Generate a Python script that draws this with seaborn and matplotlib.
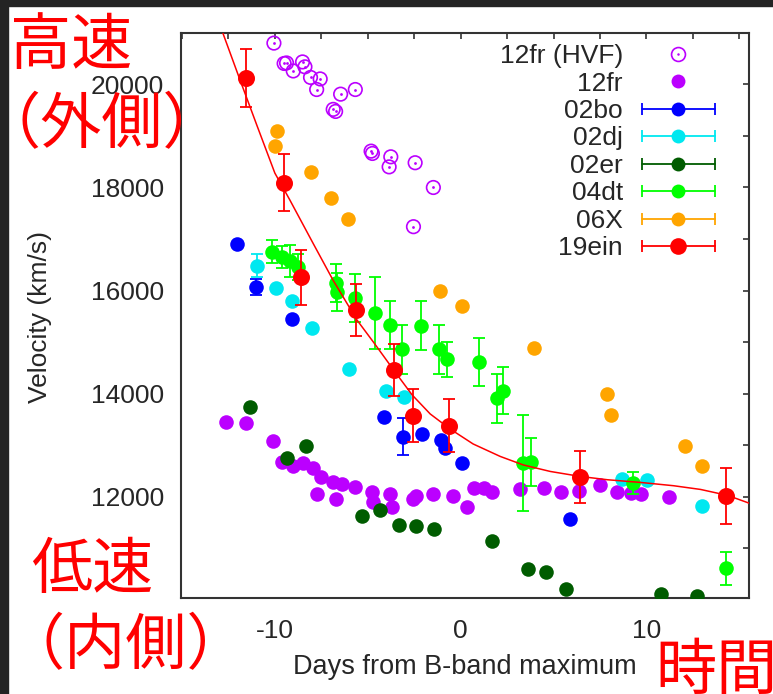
import matplotlib
matplotlib.use("Agg")
import matplotlib.pyplot as plt
from matplotlib.lines import Line2D
from matplotlib.patches import Rectangle
from matplotlib.legend_handler import HandlerLine2D
from matplotlib.ticker import MultipleLocator
import pandas as pd
import seaborn as sns

sns.set_style("white")
plt.rcParams["font.family"] = ["Liberation Sans", "DejaVu Sans"]
plt.rcParams["axes.unicode_minus"] = False

# ---------------- data: days from B-band maximum / velocity (km/s) ----------------
hvf12fr_day = [-10.05, -9.50, -9.37, -9.01, -8.51, -8.38, -8.08, -7.56, -7.75, -6.86,
               -6.73, -6.46, -5.67, -4.82, -4.75, -3.76, -3.85, -2.45, -1.47, -2.54]
hvf12fr_vel = [20800, 20405, 20415, 20260, 20435, 20340, 20135, 20105, 19900, 19515,
               19475, 19810, 19900, 18705, 18660, 18595, 18400, 18480, 18000, 17240]

sn12fr_day = [-12.64, -11.53, -10.09, -9.64, -9.01, -8.51, -7.94, -7.52, -6.86, -6.40,
              -7.75, -6.73, -5.69, -4.79, -4.70, -3.80, -3.71, -2.54, -2.42, -1.50,
              -0.39, 0.33, 0.73, 1.27, 1.71, 3.17, 4.46, 5.40, 6.39, 7.52,
              8.42, 9.18, 9.68, 11.20]
sn12fr_vel = [13450, 13430, 13090, 12670, 12590, 12650, 12555, 12395, 12295, 12245,
              12060, 11960, 12200, 12105, 11910, 12050, 11810, 11955, 12020, 12050,
              12025, 11810, 12180, 12180, 12090, 12155, 12180, 12105, 12115, 12230,
              12105, 12085, 12060, 12005]

sn02bo_day = [-12.03, -11.02, -9.10, -4.14, -3.12, -2.09, -1.05, -0.82, 0.08, 5.90]
sn02bo_vel = [16900, 16075, 15450, 13555, 13170, 13220, 13105, 12940, 12665, 11570]
sn02bo_err = [0, 150, 0, 0, 365, 0, 0, 0, 0, 0]

sn02dj_day = [-10.95, -9.95, -9.05, -8.02, -6.01, -4.03, -3.03, 8.70, 10.02, 13.00]
sn02dj_vel = [16485, 16045, 15800, 15270, 14475, 14060, 13945, 12355, 12320, 11826]
sn02dj_err = [230, 0, 0, 0, 0, 0, 0, 0, 0, 0]

sn02er_day = [-11.35, -9.37, -8.35, -5.33, -4.34, -3.33, -2.42, -1.43, 1.68, 3.60,
              4.61, 5.69, 10.79, 12.70]
sn02er_vel = [13750, 12762, 12994, 11638, 11748, 11457, 11438, 11386, 11147, 10605,
              10552, 10217, 10120, 10081]

sn04dt_day = [-10.15, -9.64, -9.19, -8.74, -6.73, -6.64, -5.69, -4.61, -3.80, -3.14,
              -2.15, -1.14, -0.71, 1.00, 1.98, 2.27, 3.35, 3.78, 9.27, 14.30]
sn04dt_vel = [16755, 16655, 16575, 16465, 16150, 15980, 15855, 15560, 15333, 14860,
              15320, 14860, 14665, 14616, 13913, 14060, 12653, 12685, 12270, 10618]
sn04dt_err = [225, 215, 310, 250, 370, 370, 470, 700, 470, 470,
              470, 470, 345, 460, 470, 460, 930, 465, 220, 323]

sn06X_day = [-9.91, -10.00, -8.06, -6.98, -6.05, -1.10, 0.08, 3.96, 7.88, 8.08, 12.05, 12.98]
sn06X_vel = [19100, 18800, 18295, 17800, 17390, 15998, 15700, 14895, 13995, 13590, 12995, 12600]

sn19ein_day = [-11.56, -9.51, -8.58, -5.64, -3.58, -2.58, -0.65, 6.41, 14.27]
sn19ein_vel = [20125, 18090, 16255, 15630, 14460, 13576, 13382, 12380, 12019]
sn19ein_err = [570, 552, 536, 500, 510, 508, 508, 507, 545]

# smooth velocity-evolution curve for 19ein
fit_day = [-12.79, -11.89, -10.97, -10.00, -9.19, -7.95, -6.87, -5.58, -4.66, -3.53,
           -2.61, -1.64, -0.57, 0.67, 2.13, 3.37, 4.82, 6.44, 7.90, 9.68,
           11.46, 12.91, 14.37, 15.53]
fit_vel = [20987, 20101, 19209, 18280, 17756, 16923, 16205, 15430, 14985, 14423,
           13977, 13609, 13318, 13027, 12785, 12620, 12494, 12397, 12333, 12281,
           12217, 12145, 12029, 11878]

legend_labels = ["12fr (HVF)", "12fr", "02bo", "02dj", "02er", "04dt", "06X", "19ein"]

PURPLE = "#bb00ff"
BLUE = "#0000ff"
CYAN = "#00e8f0"
DKGREEN = "#005c00"
GREEN = "#00ff00"
ORANGE = "#ffa500"
RED = "#ff0000"
SPINE = "#333333"

# ---------------- figure / axes ----------------
W, H = 773, 694
fig = plt.figure(figsize=(W / 100, H / 100), dpi=100)
fig.patch.set_facecolor("white")
x0, x1, y0, y1 = 181, 748.7, 33.3, 598
ax = fig.add_axes([x0 / W, 1 - y1 / H, (x1 - x0) / W, (y1 - y0) / H])


def points(day, vel, color, size, z, **kw):
    df = pd.DataFrame({"day": day, "vel": vel})
    sns.scatterplot(data=df, x="day", y="vel", color=color, s=size, zorder=z,
                    ax=ax, legend=False, **kw)


def bars(day, vel, err, color, z):
    ax.errorbar(day, vel, yerr=err, fmt="none", ecolor=color, elinewidth=1.3,
                capsize=4.3, capthick=1.3, zorder=z)


# 12fr HVF: open ring with a centre dot
df_hvf = pd.DataFrame({"day": hvf12fr_day, "vel": hvf12fr_vel})
sns.scatterplot(data=df_hvf, x="day", y="vel", marker="o", facecolors="none",
                edgecolor=PURPLE, linewidth=1.2, s=95, zorder=2, ax=ax, legend=False)
sns.scatterplot(data=df_hvf, x="day", y="vel", color=PURPLE, s=4, linewidth=0,
                zorder=2, ax=ax, legend=False)

points(sn12fr_day, sn12fr_vel, PURPLE, 110, 3, linewidth=0)
bars(sn02bo_day, sn02bo_vel, sn02bo_err, BLUE, 4)
points(sn02bo_day, sn02bo_vel, BLUE, 110, 4, linewidth=0)
bars(sn02dj_day, sn02dj_vel, sn02dj_err, CYAN, 5)
points(sn02dj_day, sn02dj_vel, CYAN, 110, 5, linewidth=0)
points(sn02er_day, sn02er_vel, DKGREEN, 110, 6, linewidth=0)
bars(sn04dt_day, sn04dt_vel, sn04dt_err, GREEN, 7)
points(sn04dt_day, sn04dt_vel, GREEN, 110, 7, linewidth=0)
points(sn06X_day, sn06X_vel, ORANGE, 110, 8, linewidth=0)
bars(sn19ein_day, sn19ein_vel, sn19ein_err, RED, 9)
points(sn19ein_day, sn19ein_vel, RED, 150, 9, linewidth=0)
sns.lineplot(x=fit_day, y=fit_vel, color=RED, linewidth=1.1, zorder=10, ax=ax)

# ---------------- axes styling ----------------
ax.set_xlim(-15.05, 15.5)
ax.set_ylim(10040, 20990)
ax.set_xticks([-10, 0, 10])
ax.xaxis.set_minor_locator(MultipleLocator(2.5))
ax.set_yticks([12000, 14000, 16000, 18000, 20000])
ax.yaxis.set_minor_locator(MultipleLocator(1000))
ax.tick_params(which="both", direction="in", top=True, right=True, length=4.5,
               width=1.2, color=SPINE)
ax.tick_params(axis="x", which="major", pad=15, labelsize=19)
ax.tick_params(axis="y", which="major", pad=12, labelsize=19)
for s in ax.spines.values():
    s.set_linewidth(1.5)
    s.set_color(SPINE)
ax.set_xlabel("Days from B-band maximum", fontsize=19.5)
ax.xaxis.set_label_coords(0.5003, -0.100)
ax.set_ylabel("Velocity (km/s)", fontsize=19)
ax.yaxis.set_label_coords(-0.2272, 0.4976)

# ---------------- legend ----------------
cap_handler = HandlerLine2D(numpoints=2, marker_pad=0)
ring = Line2D([], [], ls="none", marker="o", ms=10, mfc="none", mec=PURPLE, mew=1.2)
ring_dot = Line2D([], [], ls="none", marker="o", ms=1.8, mfc=PURPLE, mec=PURPLE, mew=0)
handles = [(ring, ring_dot),
           Line2D([], [], ls="none", marker="o", ms=10, mfc=PURPLE, mew=0)]
hmap = {}
for color, ms in [(BLUE, 10), (CYAN, 10), (DKGREEN, 10), (GREEN, 10), (ORANGE, 10), (RED, 12)]:
    bar = Line2D([], [], color=color, lw=1.3, marker="|", ms=8, mew=1.3)
    dot = Line2D([], [], ls="none", marker="o", ms=ms, mfc=color, mew=0)
    hmap[bar] = cap_handler
    handles.append((bar, dot))
ax.legend(handles, legend_labels, handler_map=hmap, loc="upper right",
          bbox_to_anchor=(0.9407, 0.9807), markerfirst=False, frameon=False,
          fontsize=19, handlelength=2.77, handletextpad=0.72, labelspacing=0.13,
          borderpad=0, borderaxespad=0)

# ---------------- annotations ----------------
cjk = ["Noto Sans CJK JP", "DejaVu Sans"]
for txt, px, py in [("高速", 10, 64), ("（外側）", -21, 143), ("低速", 31, 588),
                    ("（内側）", 4, 664), ("時間", 655, 689)]:
    fig.text(px / W, 1 - py / H, txt, fontsize=44, color=RED, family=cjk,
             ha="left", va="baseline")

# dark frame along the top and left edges
fig.add_artist(Rectangle((0, 1 - 6 / H), 1, 6 / H, transform=fig.transFigure,
                         color="#242424", zorder=20))
fig.add_artist(Rectangle((0, 0), 8 / W, 1, transform=fig.transFigure,
                         color="#242424", zorder=20))

fig.savefig("out.png", dpi=100)
